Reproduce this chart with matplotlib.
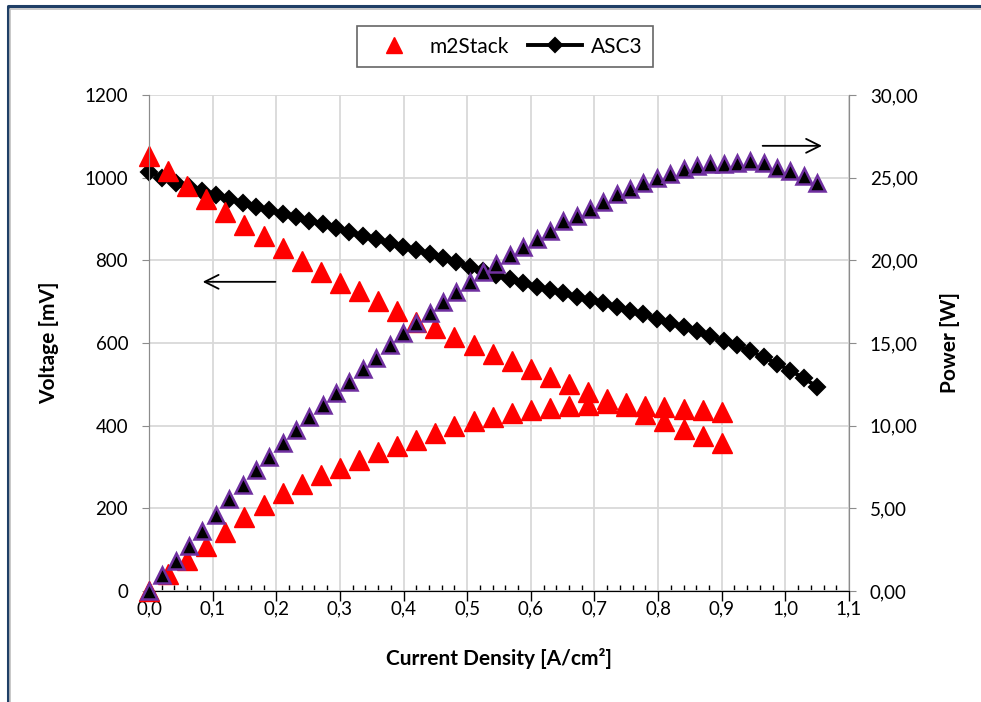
import matplotlib.pyplot as plt
from matplotlib.lines import Line2D
from matplotlib.ticker import MultipleLocator, FuncFormatter

plt.rcParams['font.family'] = ['Lato', 'DejaVu Sans']

# m2Stack: current density [A/cm2], voltage [mV], power [W]
m2_cd = [0.00, 0.03, 0.06, 0.09, 0.12, 0.15, 0.18, 0.21, 0.24, 0.27, 0.30,
         0.33, 0.36, 0.39, 0.42, 0.45, 0.48, 0.51, 0.54, 0.57, 0.60,
         0.63, 0.66, 0.69, 0.72, 0.75, 0.78, 0.81, 0.84, 0.87, 0.90]
m2_volt = [1052, 1016, 980, 948, 916, 886, 858, 829, 799, 772, 746,
           725, 701, 677, 652, 636, 614, 594, 574, 556, 538,
           518, 500, 482, 465, 448, 428, 411, 393, 375, 358]
m2_power = [0.0, 1.0, 1.9, 2.75, 3.55, 4.45, 5.2, 5.9, 6.5, 7.0, 7.45,
            7.9, 8.4, 8.8, 9.15, 9.55, 9.95, 10.3, 10.55, 10.75, 10.95,
            11.05, 11.17, 11.25, 11.35, 11.35, 11.2, 11.1, 11.0, 10.95, 10.85]

# ASC3
asc_cd = [0.000, 0.021, 0.042, 0.063, 0.084, 0.105, 0.126, 0.147, 0.168, 0.189,
          0.210, 0.231, 0.252, 0.273, 0.294, 0.315, 0.336, 0.357, 0.378, 0.399,
          0.420, 0.441, 0.462, 0.483, 0.504, 0.525, 0.546, 0.567, 0.588, 0.609,
          0.630, 0.651, 0.672, 0.693, 0.714, 0.735, 0.756, 0.777, 0.798, 0.819,
          0.840, 0.861, 0.882, 0.903, 0.924, 0.945, 0.966, 0.987, 1.008, 1.029,
          1.050]
asc_volt = [1014, 1000, 988, 977, 967, 957, 948, 939, 930, 922,
            913, 904, 895, 887, 878, 869, 860, 851, 842, 833,
            824, 815, 806, 796, 785, 775, 765, 755, 745, 736,
            728, 720, 712, 704, 696, 687, 678, 669, 659, 649,
            639, 628, 617, 606, 594, 580, 566, 550, 533, 515,
            494]
asc_power = [0.0, 0.97, 1.8, 2.75, 3.62, 4.6, 5.55, 6.4, 7.3, 8.1,
             8.95, 9.75, 10.5, 11.25, 11.95, 12.65, 13.4, 14.1, 14.85, 15.6,
             16.2, 16.8, 17.5, 18.1, 18.7, 19.3, 19.8, 20.3, 20.8, 21.3,
             21.8, 22.4, 22.7, 23.1, 23.5, 24.0, 24.3, 24.7, 24.95, 25.2,
             25.5, 25.7, 25.8, 25.8, 25.9, 26.0, 25.9, 25.6, 25.4, 25.1,
             24.7]

fig = plt.figure(figsize=(9.81, 7.02), dpi=100)
ax = fig.add_axes([0.1519, 0.1581, 0.7135, 0.7066])
ax2 = ax.twinx()

# rahmen links und oben
fig.add_artist(Line2D([0.0077, 0.0077, 1.0], [0.0, 0.9915, 0.9915], transform=fig.transFigure,
                      color='#1f3f66', linewidth=2.2))
fig.add_artist(Line2D([0.0105, 0.0105, 1.0], [0.0, 0.9875, 0.9875], transform=fig.transFigure,
                      color='#c0c0c0', linewidth=1.2))

ax.plot(asc_cd, asc_volt, color='black', linewidth=2.8, marker='D', markersize=8.5,
        markeredgewidth=1.5, label='ASC3', zorder=3, clip_on=False)
ax.plot(m2_cd, m2_volt, linestyle='none', marker='^', markersize=14, color='red',
        label='m2Stack', zorder=4, clip_on=False)
ax2.plot(m2_cd, m2_power, linestyle='none', marker='^', markersize=14, color='red',
         zorder=3, clip_on=False)
ax2.plot(asc_cd, asc_power, linestyle='none', marker='^', markersize=11.5,
         markerfacecolor='black', markeredgecolor='#7030a0', markeredgewidth=1.8,
         zorder=4, clip_on=False)

ax.set_xlim(0, 1.1)
ax.set_ylim(0, 1200)
ax2.set_ylim(0, 30)
ax.xaxis.set_major_locator(MultipleLocator(0.1))
ax.xaxis.set_minor_locator(MultipleLocator(0.02))
ax.yaxis.set_major_locator(MultipleLocator(200))
ax2.yaxis.set_major_locator(MultipleLocator(5))
ax.xaxis.set_major_formatter(FuncFormatter(lambda v, p: ('%.1f' % v).replace('.', ',')))
ax2.yaxis.set_major_formatter(FuncFormatter(lambda v, p: ('%.2f' % v).replace('.', ',')))

ax.grid(True, which='major', color='#d9d9d9', linewidth=1.3)
ax.set_axisbelow(True)

for a in (ax, ax2):
    a.spines['top'].set_visible(False)
    a.spines['left'].set_color('#8c8c8c')
    a.spines['right'].set_color('#8c8c8c')
    a.spines['bottom'].set_color('black')
ax.tick_params(axis='x', which='major', direction='out', length=7, width=1, labelsize=13.5, pad=0)
ax.tick_params(axis='x', which='minor', direction='in', length=4, width=1)
ax.tick_params(axis='y', direction='out', length=5, color='#8c8c8c', labelsize=13.5, pad=10)
ax2.tick_params(axis='y', direction='out', length=5, color='#8c8c8c', labelsize=13.5, pad=10)

ax.set_xlabel('Current Density [A/cm²]', fontsize=15, fontweight='bold', labelpad=22)
ax.set_ylabel('Voltage [mV]', fontsize=15, fontweight='bold', labelpad=18)
ax2.set_ylabel('Power [W]', fontsize=15, fontweight='bold', labelpad=16)

# pfeile
ax.annotate('', xy=(0.08, 748), xytext=(0.203, 748),
            arrowprops=dict(arrowstyle='->', color='black', linewidth=1.3, mutation_scale=25))
ax.annotate('', xy=(1.062, 1077), xytext=(0.96, 1077),
            arrowprops=dict(arrowstyle='->', color='black', linewidth=1.3, mutation_scale=25))

h, l = ax.get_legend_handles_labels()
leg = fig.legend(h[::-1], l[::-1], loc='center', bbox_to_anchor=(0.5145, 0.9335), ncol=2,
                 fontsize=15, frameon=True, fancybox=False, edgecolor='#404040',
                 handlelength=2.6, handletextpad=0.4, columnspacing=0.9, borderpad=0.5,
                 markerscale=0.8)
leg.get_frame().set_linewidth(1.2)

fig.savefig('out.png', dpi=100)
